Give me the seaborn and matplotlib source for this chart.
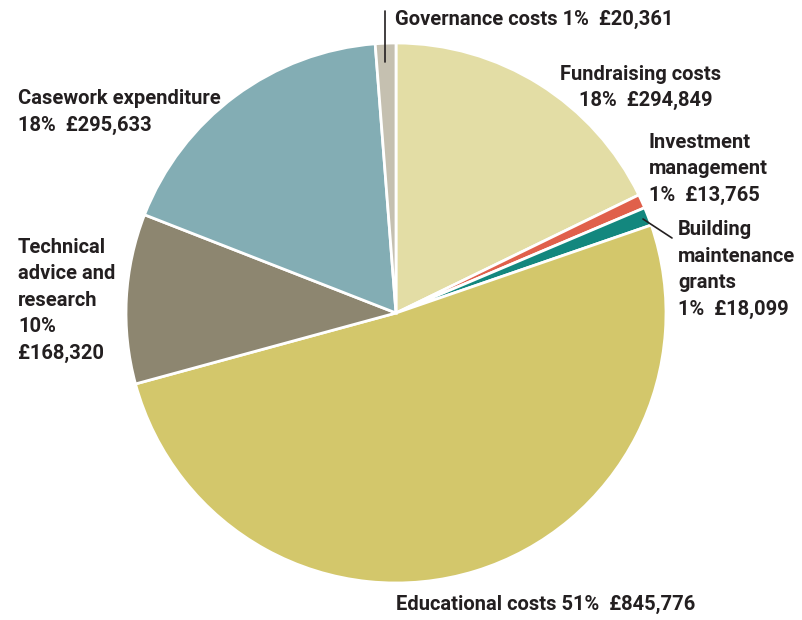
import matplotlib
matplotlib.use("Agg")
import matplotlib.pyplot as plt
import seaborn as sns

# ข้อมูลค่าใช้จ่าย (เรียงตามเข็มนาฬิกาจากด้านบน)
categories = ["Fundraising costs", "Investment management", "Building maintenance grants",
              "Educational costs", "Technical advice and research", "Casework expenditure",
              "Governance costs"]
amounts = [294849, 13765, 18099, 845776, 168320, 295633, 20361]
colors = ["#e3dda5", "#e0604b", "#13877e", "#d3c76b", "#8d8670", "#83adb4", "#c5c0b0"]

# label text as printed on the chart
label_texts = [
    "Governance costs 1%  £20,361",
    "Fundraising costs",
    "18%  £294,849",
    "Investment\nmanagement\n1%  £13,765",
    "Building\nmaintenance\ngrants\n1%  £18,099",
    "Casework expenditure\n18%  £295,633",
    "Technical\nadvice and\nresearch\n10%\n£168,320",
    "Educational costs 51%  £845,776",
]
# pixel positions (left, top) of each label block
label_pos = [(395, 10), (560, 65), (579, 91), (649, 133), (678, 220),
             (18, 89), (18, 238), (396, 595)]

sns.set_theme(style="white")
plt.rcParams["font.family"] = ["Roboto", "DejaVu Sans"]

W, H = 802, 620
fig = plt.figure(figsize=(W / 100, H / 100), dpi=100)
cx, cy, r = 396, 313, 270
ax = fig.add_axes([(cx - r) / W, (H - cy - r) / H, 2 * r / W, 2 * r / H])

ax.pie(amounts, colors=colors, startangle=90, counterclock=False, radius=1,
       wedgeprops=dict(edgecolor="white", linewidth=2))
ax.set_xlim(-1, 1)
ax.set_ylim(-1, 1)
ax.set_aspect("equal")
ax.axis("off")

# leader lines
def px(x, y):
    return (x - cx) / r, (cy - y) / r

x0, y0 = px(385, 11)
x1, y1 = px(385, 62)
ax.plot([x0, x1], [y0, y1], color="#231f20", lw=1.2, clip_on=False)
x0, y0 = px(643, 219)
x1, y1 = px(672, 238)
ax.plot([x0, x1], [y0, y1], color="#231f20", lw=1.2, clip_on=False)

for txt, (lx, ty) in zip(label_texts, label_pos):
    fig.text(lx / W, 1 - ty / H, txt, ha="left", va="top", fontsize=14.5,
             fontweight="bold", color="#231f20", linespacing=1.5)

fig.savefig("out.png", dpi=100, facecolor="white")
